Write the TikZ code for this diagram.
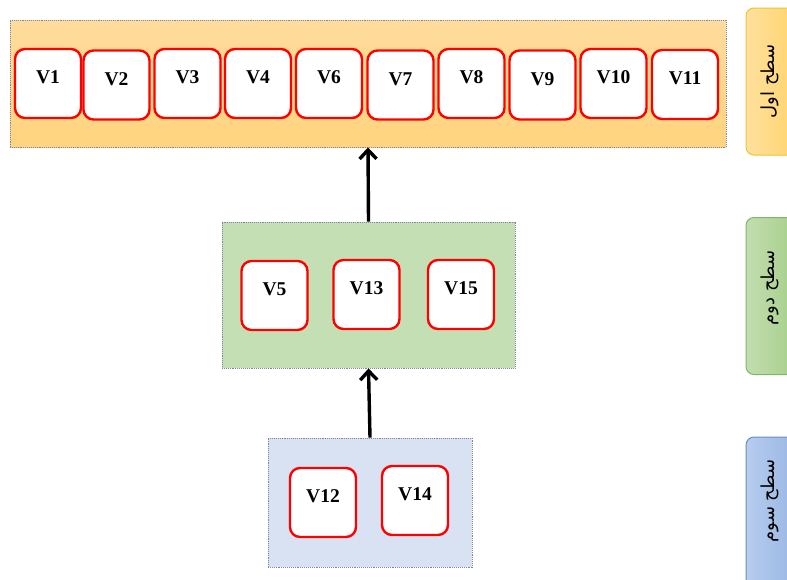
\documentclass[tikz,border=0pt]{standalone}
\usepackage{fontspec}
\setmainfont{Liberation Serif}
\newfontfamily\arabicfont[Script=Arabic]{DejaVu Sans}
\TeXXeTstate=1
\usetikzlibrary{arrows.meta}

\definecolor{lvlonetop}{HTML}{FFDC9C}
\definecolor{lvlonebottom}{HTML}{FFD47F}
\definecolor{lvltwofill}{HTML}{C5DFB4}
\definecolor{lvlthreefill}{HTML}{D9E2F3}
\definecolor{framegray}{HTML}{7F86A3}
\definecolor{tagorangeA}{HTML}{FFE19E}
\definecolor{tagorangeB}{HTML}{FFD46E}
\definecolor{tagorangeline}{HTML}{F2C033}
\definecolor{taggreenA}{HTML}{C2DEB0}
\definecolor{taggreenB}{HTML}{A6CF8A}
\definecolor{taggreenline}{HTML}{82B366}
\definecolor{tagblueA}{HTML}{B7CDEF}
\definecolor{tagblueB}{HTML}{99B6E2}
\definecolor{tagblueline}{HTML}{6C8EBF}

\tikzset{
  level/.style={draw=framegray, densely dotted, line width=0.9pt, inner sep=0pt},
  vnode/.style={draw=red, fill=white, line width=2.4pt, rounded corners=10pt,
                minimum width=66pt, minimum height=69pt, inner sep=0pt},
  vtext/.style={font=\bfseries\fontsize{19.5}{19.5}\selectfont, inner sep=0pt},
  uparrow/.style={-{Straight Barb[length=9pt,width=17pt,line width=3.4pt]}, line width=3.4pt, black},
  tag/.style={rounded corners=8pt, line width=1pt, inner sep=0pt},
  tagtext/.style={font=\arabicfont\fontsize{18}{18}\selectfont, rotate=90, inner sep=0pt}
}

% a vertex box with its caption placed above centre
\newcommand\vertexbox[3]{%
  \node[vnode] (#1) at (#2) {};
  \node[vtext] (#1t) at ([yshift=6pt]#1.center) {#3};
}

\begin{document}
\begin{tikzpicture}[x=1pt,y=-1pt]
  \useasboundingbox (0,0) rectangle (787,579);
  \clip (0,0) rectangle (787,579);

  % the three level frames
  \node[level, top color=lvlonetop, bottom color=lvlonebottom, minimum width=716pt, minimum height=127pt]
    (top) at (368,83.5) {};
  \node[level, fill=lvltwofill, minimum width=293pt, minimum height=146pt]
    (mid) at (368.5,295) {};
  \node[level, fill=lvlthreefill, minimum width=204pt, minimum height=129pt]
    (bot) at (370,502.5) {};

  % first level
  \vertexbox{v1}{48,83.5}{V1}
  \vertexbox{v2}{116.5,85}{V2}
  \vertexbox{v3}{187.5,83.5}{V3}
  \vertexbox{v4}{258,83.5}{V4}
  \vertexbox{v6}{329,83.5}{V6}
  \vertexbox{v7}{400.5,85}{V7}
  \vertexbox{v8}{471.5,83.5}{V8}
  \vertexbox{v9}{542.5,85}{V9}
  \vertexbox{v10}{613.5,83.5}{V10}
  \vertexbox{v11}{685,84.5}{V11}

  % second level
  \vertexbox{v5}{274.5,295.5}{V5}
  \vertexbox{v13}{366.5,294.5}{V13}
  \vertexbox{v15}{461,294.5}{V15}

  % third level
  \vertexbox{v12}{323,502.5}{V12}
  \vertexbox{v14}{415,500.5}{V14}

  % flow between levels
  \draw[uparrow] (mid.north) -- (top.south);
  \draw[uparrow] (bot.north) -- (mid.south);

  % level tags on the right
  \node[tag, draw=tagorangeline, left color=tagorangeA, right color=tagorangeB,
        minimum width=50pt, minimum height=147pt] (tag1) at (771,81.5) {};
  \node[tagtext] (tag1t) at (770,81.5) {\beginR سطح اول\endR};

  \node[tag, draw=taggreenline, left color=taggreenA, right color=taggreenB,
        minimum width=50pt, minimum height=157pt] (tag2) at (771,296) {};
  \node[tagtext] (tag2t) at (770,288) {\beginR سطح دوم\endR};

  \node[tag, draw=tagblueline, left color=tagblueA, right color=tagblueB,
        minimum width=50pt, minimum height=160pt] (tag3) at (771,517) {};
  \node[tagtext] (tag3t) at (770,501) {\beginR سطح سوم\endR};
\end{tikzpicture}
\end{document}
